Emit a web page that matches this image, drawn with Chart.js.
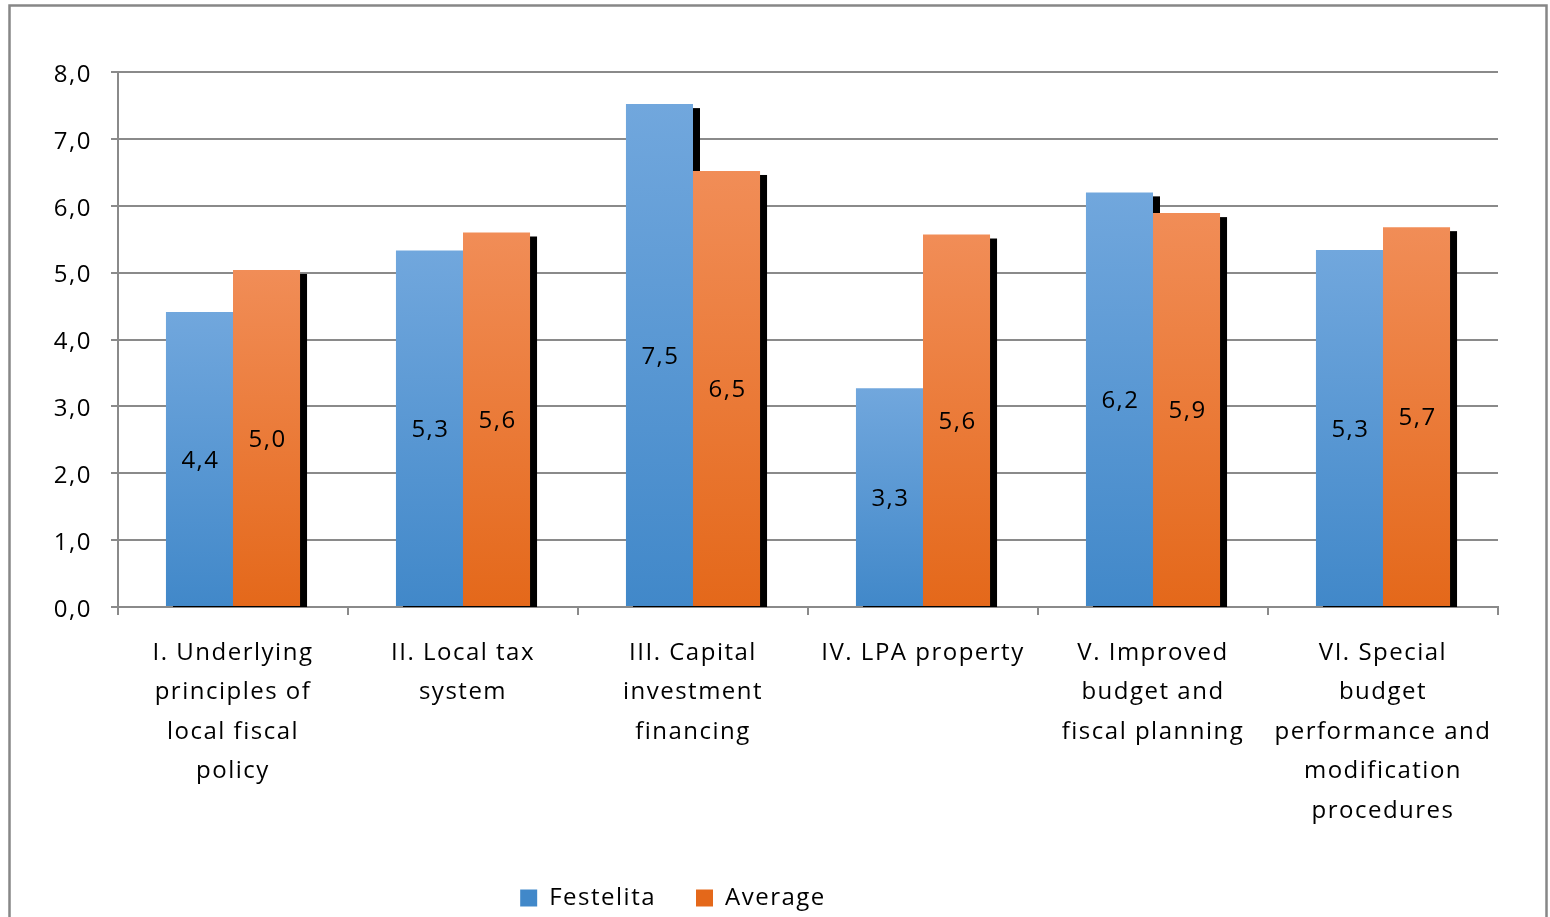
<!DOCTYPE html>
<html>
<head>
<meta charset="utf-8">
<script src="https://cdn.jsdelivr.net/npm/chart.js@4"></script>
<style>
html,body{margin:0;padding:0;background:#fff}
#wrap{position:absolute;left:0;top:0;width:1550px;height:917px}
</style>
</head>
<body>
<div id="wrap"><canvas id="chart" width="1550" height="917"></canvas></div>
<script>
// values
let categories=[
["I. Underlying","principles of","local fiscal","policy"],
["II. Local tax","system"],
["III. Capital","investment","financing"],
["IV. LPA property"],
["V. Improved","budget and","fiscal planning"],
["VI. Special","budget","performance and","modification","procedures"]
]
let festelita=[4.41,5.33,7.52,3.27,6.2,5.34]
let average=[5.04,5.6,6.52,5.57,5.89,5.68]
let seriesNames=["Festelita","Average"]

let FONT="'Open Sans'"
let SPACING="1.5px"
Chart.defaults.font.family=FONT
Chart.defaults.color="#000"

function grad(top,bottom){
return function(c){
let chart=c.chart
let a=chart.chartArea
if(!a) return bottom
let y0,y1
if(c.type=="data"){
y0=chart.scales.y.getPixelForValue(c.raw)
y1=a.bottom
}else{
y0=889;y1=907
}
let g=chart.ctx.createLinearGradient(0,y0,0,y1)
g.addColorStop(0,top)
g.addColorStop(1,bottom)
return g
}
}

// excel-like text spacing
let spacing={
id:"spacing",
beforeUpdate(chart){chart.ctx.letterSpacing=SPACING},
beforeDraw(chart){chart.ctx.letterSpacing=SPACING}
}

let border={
id:"border",
beforeDraw(chart){
let ctx=chart.ctx
ctx.save()
ctx.strokeStyle="#878787"
ctx.lineWidth=2.5
ctx.strokeRect(9.5,5.5,1537,960)
ctx.restore()
}
}

// black offset shadow behind every bar, drawn before the bars
let shadow={
id:"shadow",
beforeDatasetsDraw(chart){
let ctx=chart.ctx
let a=chart.chartArea
ctx.save()
ctx.beginPath()
ctx.rect(a.left,a.top,a.right-a.left,a.bottom-a.top)
ctx.clip()
ctx.fillStyle="#000"
chart.data.datasets.forEach((ds,i)=>{
chart.getDatasetMeta(i).data.forEach(bar=>{
ctx.fillRect(bar.x-bar.width/2+7,bar.y+4,bar.width,bar.base-bar.y)
})
})
ctx.restore()
}
}

let labels={
id:"labels",
afterDatasetsDraw(chart){
let ctx=chart.ctx
ctx.save()
ctx.font="24px "+FONT
ctx.fillStyle="#000"
ctx.textAlign="center"
ctx.textBaseline="middle"
chart.data.datasets.forEach((ds,i)=>{
chart.getDatasetMeta(i).data.forEach((bar,j)=>{
let t=ds.data[j].toFixed(1).replace(".",",")
ctx.fillText(t,bar.x+1,(bar.y+bar.base)/2+2)
})
})
ctx.restore()
}
}

let legendShift={
id:"legendShift",
afterLayout(chart){
let l=chart.legend
l.left-=76
l.right-=76
l.top+=3
l.bottom+=3
}
}

let ctx=document.getElementById("chart").getContext("2d")

let chart=new Chart(ctx,{
type:"bar",
data:{
labels:categories,
datasets:[{
label:seriesNames[0],
data:festelita,
backgroundColor:grad("#71a7dd","#4188c9"),
borderWidth:0
},{
label:seriesNames[1],
data:average,
backgroundColor:grad("#f18d57","#e4681a"),
borderWidth:0
}]
},
options:{
responsive:false,
animation:false,
devicePixelRatio:1,
categoryPercentage:0.583,
barPercentage:1,
layout:{padding:{top:72,right:52,left:0,bottom:0}},
plugins:{
legend:{
position:"bottom",
labels:{
boxWidth:17,
boxHeight:17,
padding:40,
font:{size:24}
}
},
tooltip:{enabled:false}
},
scales:{
x:{
grid:{drawOnChartArea:false,drawTicks:true,tickLength:8,color:"#8a8a8a",lineWidth:2},
border:{display:true,color:"#8a8a8a",width:2},
ticks:{font:{size:24,lineHeight:1.65},padding:18,maxRotation:0,autoSkip:false},
afterFit(s){s.height=236}
},
y:{
min:0,
max:8,
ticks:{stepSize:1,font:{size:24},padding:19,labelOffset:3,
callback:v=>v.toFixed(1).replace(".",",")},
grid:{color:"#8a8a8a",lineWidth:2,tickLength:7},
border:{display:true,color:"#8a8a8a",width:2},
afterFit(s){s.width=118}
}
}
},
plugins:[spacing,border,shadow,labels,legendShift]
})
</script>
</body>
</html>
